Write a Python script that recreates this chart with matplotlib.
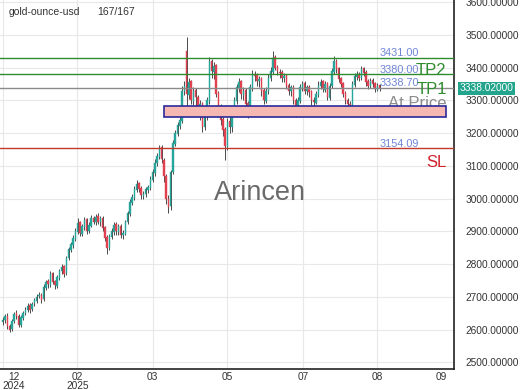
import matplotlib
matplotlib.use("Agg")
import matplotlib.pyplot as plt
from matplotlib.patches import Rectangle

plt.rcParams['font.family'] = ['Liberation Sans', 'DejaVu Sans']

# ---------------- data ----------------
opens = [2622, 2628, 2642, 2612, 2602, 2626, 2650, 2642, 2614, 2636,
         2652, 2661, 2674, 2662, 2680, 2688, 2702, 2707, 2692, 2728,
         2748, 2736, 2772, 2748, 2733, 2758, 2778, 2793, 2772, 2818,
         2842, 2858, 2878, 2898, 2928, 2893, 2912, 2938, 2902, 2918,
         2942, 2928, 2948, 2928, 2942, 2912, 2882, 2848, 2882, 2898,
         2922, 2898, 2918, 2888, 2893, 2928, 2952, 2988, 3003, 3028,
         3048, 3032, 3008, 3013, 3028, 3033, 3058, 3078, 3108, 3128,
         3158, 3118, 3068, 2998, 2978, 3082, 3168, 3198, 3222, 3238,
         3328, 3450, 3318, 3358, 3298, 3332, 3312, 3278, 3292, 3218,
         3248, 3298, 3422, 3388, 3408, 3322, 3282, 3242, 3212, 3158,
         3238, 3218, 3268, 3298, 3338, 3358, 3318, 3332, 3292, 3258,
         3338, 3382, 3378, 3358, 3368, 3332, 3298, 3328, 3368, 3388,
         3432, 3402, 3388, 3388, 3368, 3378, 3348, 3328, 3342, 3302,
         3273, 3298, 3338, 3352, 3328, 3342, 3328, 3302, 3293, 3318,
         3343, 3358, 3333, 3352, 3308, 3343, 3388, 3422, 3398, 3368,
         3352, 3322, 3302, 3288, 3283, 3348, 3373, 3382, 3368, 3398,
         3388, 3358, 3343, 3362, 3352, 3333, 3347]
highs = [2638, 2648, 2650, 2618, 2632, 2655, 2660, 2648, 2645, 2658,
         2668, 2680, 2682, 2685, 2698, 2708, 2715, 2712, 2738, 2752,
         2755, 2778, 2776, 2752, 2766, 2786, 2800, 2798, 2826, 2852,
         2868, 2888, 2910, 2942, 2932, 2922, 2945, 2942, 2928, 2950,
         2948, 2952, 2955, 2946, 2946, 2916, 2888, 2892, 2910, 2928,
         2928, 2922, 2922, 2905, 2936, 2962, 2998, 3015, 3040, 3056,
         3052, 3038, 3024, 3036, 3042, 3068, 3090, 3120, 3140, 3165,
         3163, 3124, 3074, 3010, 3088, 3178, 3210, 3235, 3250, 3345,
         3360, 3495, 3368, 3362, 3340, 3338, 3318, 3300, 3296, 3258,
         3310, 3432, 3428, 3418, 3412, 3330, 3290, 3250, 3220, 3245,
         3250, 3280, 3312, 3350, 3368, 3362, 3340, 3338, 3298, 3350,
         3392, 3390, 3384, 3375, 3372, 3338, 3340, 3380, 3402, 3450,
         3440, 3408, 3395, 3392, 3385, 3382, 3352, 3348, 3346, 3308,
         3310, 3350, 3360, 3358, 3348, 3346, 3332, 3310, 3330, 3358,
         3365, 3362, 3358, 3356, 3352, 3398, 3435, 3428, 3402, 3372,
         3356, 3328, 3308, 3298, 3358, 3385, 3390, 3388, 3405, 3402,
         3392, 3365, 3368, 3370, 3356, 3352, 3350]
lows = [2615, 2620, 2602, 2592, 2596, 2620, 2632, 2608, 2608, 2628,
        2645, 2655, 2652, 2656, 2672, 2680, 2695, 2682, 2688, 2720,
        2728, 2730, 2738, 2725, 2728, 2750, 2770, 2760, 2768, 2812,
        2836, 2850, 2872, 2892, 2885, 2886, 2905, 2892, 2895, 2912,
        2922, 2920, 2922, 2918, 2900, 2870, 2832, 2842, 2876, 2890,
        2890, 2888, 2880, 2878, 2888, 2922, 2946, 2980, 2996, 3020,
        3020, 3000, 3000, 3006, 3018, 3028, 3050, 3070, 3100, 3120,
        3110, 3050, 2985, 2955, 2965, 3075, 3160, 3190, 3212, 3232,
        3318, 3265, 3305, 3290, 3285, 3280, 3262, 3240, 3205, 3210,
        3240, 3290, 3370, 3365, 3310, 3265, 3225, 3190, 3118, 3150,
        3200, 3205, 3260, 3290, 3325, 3305, 3300, 3275, 3245, 3252,
        3330, 3360, 3345, 3340, 3315, 3290, 3292, 3320, 3360, 3382,
        3392, 3378, 3370, 3355, 3355, 3335, 3318, 3315, 3290, 3250,
        3265, 3292, 3330, 3320, 3318, 3312, 3285, 3282, 3288, 3312,
        3335, 3325, 3325, 3300, 3300, 3338, 3382, 3385, 3355, 3340,
        3310, 3288, 3265, 3275, 3278, 3342, 3362, 3360, 3362, 3375,
        3345, 3335, 3338, 3340, 3325, 3328, 3330]
closes = [2630, 2640, 2610, 2600, 2625, 2648, 2640, 2615, 2638, 2650,
          2660, 2672, 2660, 2678, 2690, 2700, 2705, 2690, 2730, 2745,
          2738, 2770, 2745, 2735, 2760, 2780, 2790, 2770, 2820, 2845,
          2860, 2880, 2900, 2925, 2895, 2915, 2935, 2900, 2920, 2940,
          2930, 2945, 2930, 2940, 2910, 2880, 2850, 2885, 2900, 2920,
          2900, 2915, 2890, 2895, 2930, 2955, 2990, 3005, 3030, 3045,
          3030, 3010, 3015, 3030, 3035, 3060, 3080, 3110, 3130, 3155,
          3120, 3070, 3000, 2975, 3080, 3170, 3200, 3225, 3240, 3330,
          3345, 3320, 3355, 3300, 3330, 3310, 3280, 3290, 3220, 3250,
          3300, 3420, 3390, 3405, 3320, 3280, 3240, 3210, 3160, 3235,
          3220, 3270, 3300, 3340, 3355, 3320, 3330, 3290, 3260, 3340,
          3380, 3375, 3360, 3365, 3330, 3300, 3330, 3370, 3390, 3430,
          3400, 3390, 3385, 3370, 3375, 3345, 3330, 3340, 3300, 3275,
          3300, 3340, 3350, 3330, 3340, 3325, 3300, 3295, 3320, 3345,
          3355, 3335, 3350, 3310, 3345, 3390, 3420, 3395, 3365, 3350,
          3320, 3300, 3290, 3285, 3350, 3375, 3380, 3370, 3395, 3385,
          3355, 3345, 3360, 3350, 3335, 3345, 3338]

tick_pos = [5.0, 32.9, 66.1, 98.9, 132.2, 165.0, 193.4]
tick_labels = ['12\n2024', '02\n2025', '03', '05', '07', '08', '09']
grid_x = [0.1, 32.9, 66.1, 98.9, 132.2, 165.0]

level_tp3 = 3431.00
level_tp2 = 3380.00
level_tp1 = 3338.70
level_sl = 3154.09
zone_low, zone_high = 3250, 3283
zone_start, zone_end = 71.1, 195.3
last_price = 3338.02
yticks = [2500, 2600, 2700, 2800, 2900, 3000, 3100, 3200, 3300, 3400, 3500, 3600]

# ---------------- figure ----------------
fig = plt.figure(figsize=(5.2, 3.9), dpi=100)
ax = fig.add_axes([0.0, 0.0538, 454/520, 0.9462])
ax.set_xlim(-1.19, 198.8)
ax.set_ylim(2479.5, 3607)

for yv in yticks:
    ax.axhline(yv, color='#e8e8e8', lw=0.8, zorder=0)
for xv in grid_x:
    ax.axvline(xv, color='#e8e8e8', lw=0.8, zorder=0)

up_c = '#26a69a'
dn_c = '#e0404f'
for i, (o, h, l, c) in enumerate(zip(opens, highs, lows, closes)):
    col = up_c if c >= o else dn_c
    ax.vlines(i, l, h, color='#4a4a4a', lw=0.7, zorder=2)
    ax.bar(i, max(abs(c - o), 1.5), bottom=min(o, c), width=0.65,
           color=col, edgecolor=col, lw=0.3, zorder=3)

ax.axhline(level_tp3, color='#2e8b2e', lw=1.0, zorder=4)
ax.axhline(level_tp2, color='#2e8b2e', lw=1.0, zorder=4)
ax.axhline(level_tp1, color='#8a8a8a', lw=1.0, zorder=4)
ax.axhline(level_sl, color='#c0392b', lw=1.0, zorder=4)

lab_c = '#6f86d6'
ax.text(166.0, 3445, f'{level_tp3:.2f}', color=lab_c, fontsize=7.8, va='center', ha='left', zorder=5)
ax.text(166.0, 3393, f'{level_tp2:.2f}', color=lab_c, fontsize=7.8, va='center', ha='left', zorder=5)
ax.text(166.0, 3353, f'{level_tp1:.2f}', color=lab_c, fontsize=7.8, va='center', ha='left', zorder=5)
ax.text(166.0, 3167, f'{level_sl:.2f}', color=lab_c, fontsize=7.8, va='center', ha='left', zorder=5)

ax.text(195.6, 3391, 'TP2', color='#2e8b2e', fontsize=12, va='center', ha='right', zorder=5)
ax.text(195.6, 3335, 'TP1', color='#2e8b2e', fontsize=12, va='center', ha='right', zorder=5)
ax.text(195.6, 3291, 'At Price', color='#8c8c8c', fontsize=12, va='center', ha='right', zorder=5)
ax.text(195.6, 3110, 'SL', color='#d0202a', fontsize=12, va='center', ha='right', zorder=5)

ax.add_patch(Rectangle((zone_start, zone_low), zone_end - zone_start, zone_high - zone_low,
                       facecolor='#f5b8b2', edgecolor='#2b2b9a', lw=1.2, zorder=6))

ax.text(113.5, 3017, 'Arincen', color='#5a5a5a', fontsize=19.5, ha='center', va='center',
        alpha=0.9, zorder=7)

fig.text(9/520, 1 - 12/390, 'gold-ounce-usd', fontsize=7.5, color='#333333', va='center', ha='left')
fig.text(97/520, 1 - 12/390, '167/167', fontsize=7.5, color='#333333', va='center', ha='left')

# axes styling
for s in ['left', 'top']:
    ax.spines[s].set_visible(False)
ax.spines['bottom'].set_color('#222222')
ax.spines['right'].set_color('#222222')
ax.spines['bottom'].set_linewidth(1.2)
ax.spines['right'].set_linewidth(1.2)

ax.yaxis.tick_right()
ax.set_yticks(yticks)
ax.set_yticklabels([f'{v:.5f}' for v in yticks], fontsize=7.3, color='#333333')
ax.tick_params(axis='y', length=0, pad=8)
ax.set_xticks(tick_pos)
ax.set_xticklabels(tick_labels, fontsize=7.3, color='#333333', linespacing=0.95)
ax.tick_params(axis='x', length=0, pad=2)

# last price tag
ax.text(1.0 + 6/454, last_price, f'{last_price:.5f}', transform=ax.get_yaxis_transform(),
        fontsize=7.3, color='white', va='center', ha='left', zorder=10,
        bbox=dict(boxstyle='square,pad=0.15', facecolor='#22a58c', edgecolor='none'),
        clip_on=False)

fig.savefig('out.png', dpi=100, facecolor='white')
